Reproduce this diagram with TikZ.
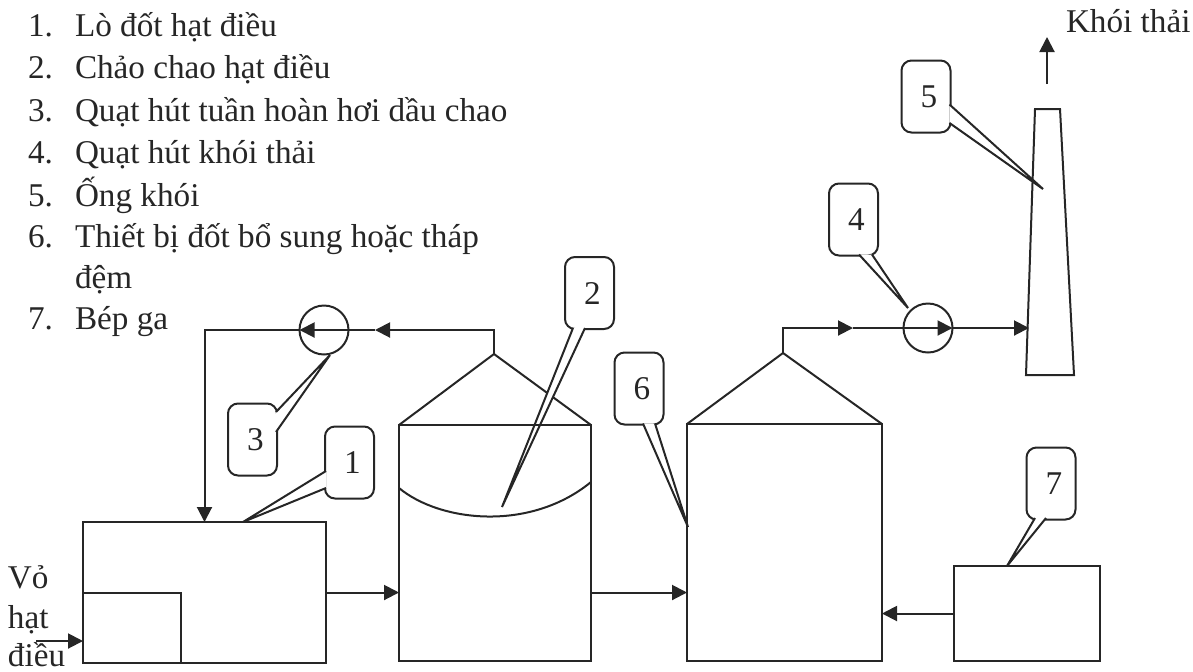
\documentclass[tikz,border=0pt]{standalone}
\usepackage{fontspec}
\setmainfont{Liberation Serif}
\usetikzlibrary{arrows.meta,calc}

\begin{document}
\begin{tikzpicture}[x=0.5pt,y=-0.5pt,line width=1pt,black!85,
  every node/.style={font=\fontsize{16.6}{18}\selectfont,inner sep=0pt,outer sep=0pt},
  txt/.style={anchor=base west},
  unit/.style={draw},
  callbox/.style={draw,rounded corners=5pt,minimum width=24.5pt,minimum height=36pt},
  fan/.style={draw,circle,minimum size=24.5pt},
  flow/.style={-{Triangle[length=7.5pt,width=7.5pt]}}]

\useasboundingbox (0,0) rectangle (1193,671);

% List of parts
\foreach \n/\y/\name in {1/36/Lò đốt hạt điều,2/78/Chảo chao hạt điều,3/121/Quạt hút tuần hoàn hơi dầu chao,
  4/163/Quạt hút khói thải,5/206/Ống khói,6/247/Thiết bị đốt bổ sung hoặc tháp,7/329/Bép ga} {
\node[txt] (num\n) at (28,\y) {\n.};
\node[txt] (item\n) at (75,\y) {\name};
}
\node[txt] (item6b) at (75,288) {đệm};

% Labels of input and output
\node[txt] (vo) at (8,588) {Vỏ};
\node[txt] (hat) at (8,628) {hạt};
\node[txt] (dieu) at (8,666) {điều};
\node[txt] (khoi) at (1066,32) {Khói thải};

% Roofs
\coordinate (top2) at (494,354);
\coordinate (top6) at (783,353);
\draw (399,425) -- (top2) -- (591,425);
\draw (687,424) -- (top6) -- (882,424);

% Number boxes
\foreach \n/\x/\y in {1/349.5/462.5,2/589.5/293,3/252.5/439.5,4/853.5/219.5,5/926/96.5,6/639/388.5,7/1051/483.5}
\node[callbox] (call\n) at (\x,\y) {\hspace{3pt}\n};

% Pointers of the number boxes
\foreach \n/\ax/\ay/\bx/\by/\tx/\ty in {1/-23.5/8.5/-23.5/25.5/243/522,2/-16.5/35/-4.5/35/502/507,
  3/23.5/-27.5/23.5/-7.5/330/355,4/5.5/35/18.5/35/908/308,5/23.5/8/23.5/26.5/1043/189,
  6/4/35/16/35/688/527,7/-16/34.5/-5/34.5/1007/566} {
\coordinate (tip\n) at (\tx,\ty);
\fill[white] ($(call\n.center)+(\ax,\ay)$) -- (tip\n) -- ($(call\n.center)+(\bx,\by)$) -- cycle;
\draw ($(call\n.center)+(\ax,\ay)$) -- (tip\n) -- ($(call\n.center)+(\bx,\by)$);
}

% Units
\node[unit,minimum width=121.5pt,minimum height=70.5pt] (lo) at (204.5,592.5) {};
\node[unit,minimum width=49pt,minimum height=35pt] (buong) at (132,628) {};
\node[unit,minimum width=96pt,minimum height=118pt] (chao) at (495,543) {};
\node[unit,minimum width=97.5pt,minimum height=118.5pt] (thap) at (784.5,542.5) {};
\node[unit,minimum width=73pt,minimum height=47.5pt] (bep) at (1027,613.5) {};

% Curved pan
\draw (399,488) .. controls (440,522) and (530,532) .. (591,482);

% Chimney
\draw (1035,109) -- (1060,109) -- (1074,375) -- (1026,375) -- cycle;

% Fans
\node[fan] (fan3) at (324,330) {};
\node[fan] (fan4) at (928,328) {};

% Flow lines
\coordinate (bend2) at (494,330);
\coordinate (mid3) at (375,330);
\draw[flow] (top2) -- (bend2) -- (mid3);
\draw[flow] (mid3) -- (fan3.west);
\draw[flow] (fan3.west) -| (lo.north);

\coordinate (bend6) at (783,328);
\coordinate (mid4) at (853,328);
\coordinate (stackin) at (1029,328);
\draw[flow] (top6) -- (bend6) -- (mid4);
\draw[flow] (mid4) -- (fan4.east);
\draw[flow] (fan4.east) -- (stackin);

\coordinate (vao) at (36,641);
\draw[flow] (vao) -- (vao -| lo.west);
\draw[flow] (lo.east) -- (lo.east -| chao.west);
\draw[flow] (chao.east |- lo.east) -- (thap.west |- lo.east);
\draw[flow] (bep.west) -- (bep.west -| thap.east);

\coordinate (stackout) at (1047,84);
\coordinate (smoke) at (1047,37);
\draw[flow] (stackout) -- (smoke);

\end{tikzpicture}
\end{document}
